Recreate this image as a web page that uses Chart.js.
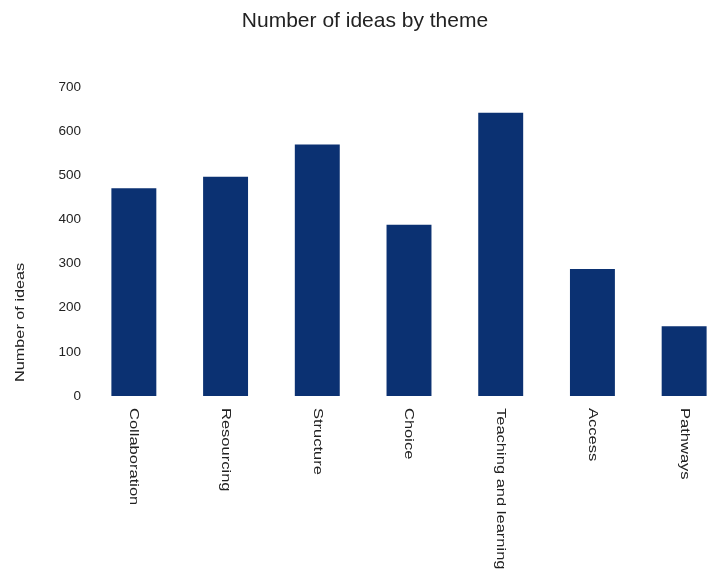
<!DOCTYPE html>
<html>
<head>
<meta charset="utf-8">
<script src="https://cdn.jsdelivr.net/npm/chart.js@4.4.1/dist/chart.umd.min.js"></script>
<style>
  html, body { margin: 0; padding: 0; overflow: hidden; background: #fff; }
  #wrap { width: 740px; height: 577px; position: relative; }
</style>
</head>
<body>
<div id="wrap"><canvas id="ideas_bar"></canvas></div>
<script>
// values
var themes = ["Collaboration", "Resourcing", "Structure", "Choice", "Teaching and learning", "Access", "Pathways"];
var ideaCounts = [471, 497, 570, 388, 642, 288, 158];
var yTicks = [0, 100, 200, 300, 400, 500, 600, 700];

var chartTitle = "Number of ideas by theme";
var yTitle = "Number of ideas";
var fontFamily = "'Liberation Sans', Arial, sans-serif";

// draws the x labels reading top to bottom and the y axis title
var labelPlugin = {
  id: 'labelPlugin',
  afterDraw: function(chart) {
    var ctx = chart.ctx;
    var xScale = chart.scales.x;
    var area = chart.chartArea;
    ctx.save();
    ctx.fillStyle = "#222";
    ctx.font = "13px " + fontFamily;
    ctx.textBaseline = "middle";
    ctx.textAlign = "left";
    themes.forEach(function(label, i) {
      var x = xScale.getPixelForTick(i);
      ctx.save();
      ctx.translate(x, area.bottom + 12);
      ctx.rotate(Math.PI / 2);
      ctx.scale(1.27, 1);
      ctx.fillText(label, 0, 0);
      ctx.restore();
    });
    // y title
    ctx.save();
    ctx.translate(20, area.bottom - 14);
    ctx.rotate(-Math.PI / 2);
    ctx.scale(1.25, 1);
    ctx.fillText(yTitle, 0, 0);
    ctx.restore();
    ctx.restore();
  }
};

var ctx = document.getElementById("ideas_bar").getContext("2d");
var ideasChart = new Chart(ctx, {
  type: 'bar',
  data: {
    labels: themes,
    datasets: [{
      label: yTitle,
      data: ideaCounts,
      backgroundColor: "#0b3172",
      borderWidth: 0,
      categoryPercentage: 1.0,
      barPercentage: 0.49
    }]
  },
  options: {
    responsive: true,
    maintainAspectRatio: false,
    animation: false,
    layout: { padding: { left: 0, right: 10, top: 0, bottom: 0 } },
    plugins: {
      legend: { display: false },
      tooltip: { enabled: false },
      title: {
        display: true,
        text: chartTitle,
        color: "#222",
        font: { family: fontFamily, size: 21, weight: 'normal' },
        padding: { top: 9, bottom: 53 }
      }
    },
    scales: {
      x: {
        grid: { display: false, drawTicks: false },
        border: { display: false },
        ticks: { display: false },
        afterFit: function(scale) { scale.height = 181; }
      },
      y: {
        min: yTicks[0],
        max: yTicks[yTicks.length - 1],
        grid: { display: false, drawTicks: false },
        border: { display: false },
        afterBuildTicks: function(scale) {
          scale.ticks = yTicks.map(function(v) { return { value: v }; });
        },
        ticks: {
          color: "#222",
          padding: 7,
          font: { family: fontFamily, size: 13.5 }
        },
        afterFit: function(scale) { scale.width = 88; }
      }
    }
  },
  plugins: [labelPlugin]
});
</script>
</body>
</html>
